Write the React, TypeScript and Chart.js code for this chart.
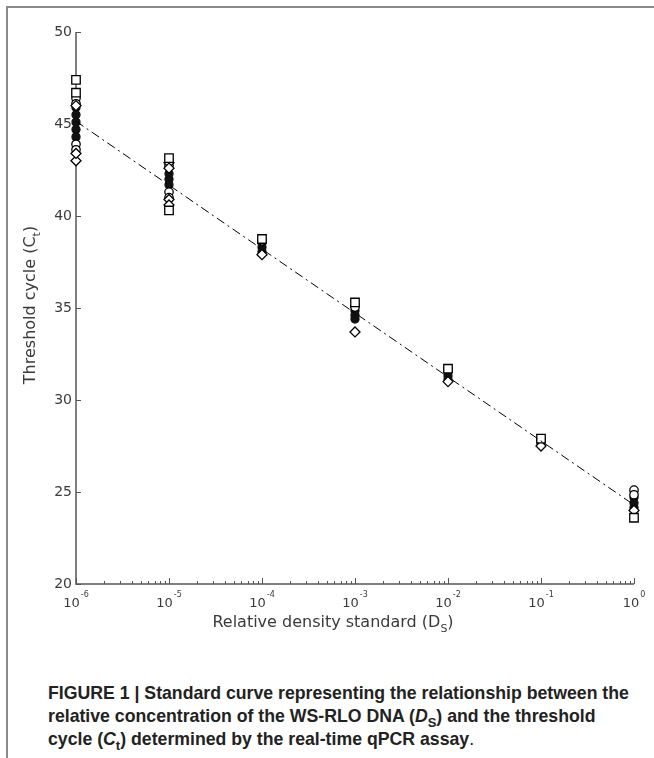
import React, { useEffect, useRef } from "react";
import { Chart, registerables } from "chart.js";

Chart.register(...registerables);

// Relative density standard (x positions of the dilution series)
const concentrations = [1e-6, 1e-5, 1e-4, 1e-3, 1e-2, 1e-1, 1];

// Threshold cycle replicates per concentration, one array per marker series
const squareCt = [[47.4, 46.7], [43.15, 40.3], [38.75], [35.3], [31.7], [27.9], [23.6]];
const diamondCt = [[43.0, 43.4, 46.0], [42.9, 42.6, 40.9, 40.6], [37.9], [33.7], [31.0], [27.5], [24.0]];
const circleCt = [[46.4, 46.1, 43.9, 43.6], [42.75, 41.3, 41.0], [38.65], [35.05], [31.65], [27.85], [25.1, 24.85]];
const filledCt = [[45.9, 45.5, 45.1, 44.7, 44.3], [42.3, 42.0, 41.7], [38.55, 38.3, 38.05], [35.1, 34.85, 34.6, 34.4], [31.55, 31.3, 31.1], [27.8, 27.6], [24.7, 24.4, 24.15]];
const starCt = [[45.6, 44.5], [42.15], [38.55, 38.1], [35.15], [31.45], [27.75], [24.6]];
const crossCt = [[45.2], [41.6], [38.3], [34.8], [31.25], [27.65], [24.3]];
const dotCt = [[45.4, 44.9], [41.9], [38.4], [34.6], [31.35], [27.6], [24.45]];

// Fitted standard curve (end points)
const fitX = [1e-6, 1];
const fitCt = [45.15, 24.3];

// Axis tick values
const yTicks = [20, 25, 30, 35, 40, 45, 50];
const decadeExponents = [-6, -5, -4, -3, -2, -1, 0];

function toPoints(series: number[][]) {
  const pts: { x: number; y: number }[] = [];
  series.forEach((vals, i) => vals.forEach((v) => pts.push({ x: concentrations[i], y: v })));
  return pts;
}

const AXIS_COLOR = "#555";
const TEXT_COLOR = "#3a3a3a";
const FONT = "'DejaVu Sans', sans-serif";

const axesPlugin = {
  id: "customAxes",
  beforeDatasetsDraw(chart: any) {
    const { ctx, chartArea, scales } = chart;
    const xs = scales.x;
    const ys = scales.y;
    ctx.save();
    ctx.strokeStyle = AXIS_COLOR;
    ctx.lineWidth = 1.5;
    ctx.beginPath();
    ctx.moveTo(chartArea.left, chartArea.top);
    ctx.lineTo(chartArea.left, chartArea.bottom);
    ctx.lineTo(chartArea.right, chartArea.bottom);
    ctx.stroke();
    ctx.lineWidth = 1;
    ctx.beginPath();
    yTicks.forEach((t) => {
      const py = Math.round(ys.getPixelForValue(t)) + 0.5;
      ctx.moveTo(chartArea.left, py);
      ctx.lineTo(chartArea.left + 5, py);
    });
    decadeExponents.forEach((e) => {
      for (let m = 1; m <= 9; m++) {
        if (e === 0 && m > 1) break;
        const v = m * Math.pow(10, e);
        const px = Math.round(xs.getPixelForValue(v)) + 0.5;
        const len = m === 1 ? 6 : 3;
        ctx.moveTo(px, chartArea.bottom);
        ctx.lineTo(px, chartArea.bottom - len);
      }
    });
    ctx.stroke();
    ctx.restore();
  },
  afterDraw(chart: any) {
    const { ctx, chartArea, scales } = chart;
    const xs = scales.x;
    ctx.save();
    ctx.fillStyle = TEXT_COLOR;
    decadeExponents.forEach((e) => {
      const px = xs.getPixelForValue(Math.pow(10, e));
      ctx.font = `13px ${FONT}`;
      const baseW = ctx.measureText("10").width;
      ctx.font = `8px ${FONT}`;
      const expW = ctx.measureText(String(e)).width;
      const total = baseW + 1 + expW;
      const x0 = px - total / 2;
      ctx.textBaseline = "alphabetic";
      ctx.textAlign = "left";
      ctx.font = `13px ${FONT}`;
      ctx.fillText("10", x0, chartArea.bottom + 23);
      ctx.font = `8px ${FONT}`;
      ctx.fillText(String(e), x0 + baseW + 1, chartArea.bottom + 13);
    });
    const drawSubTitle = (main: string, sub: string, cx: number, cy: number, rot: number) => {
      ctx.save();
      ctx.translate(cx, cy);
      ctx.rotate(rot);
      ctx.font = `16px ${FONT}`;
      const w1 = ctx.measureText(main).width;
      ctx.font = `11px ${FONT}`;
      const w2 = ctx.measureText(sub).width;
      ctx.font = `16px ${FONT}`;
      const w3 = ctx.measureText(")").width;
      const total = w1 + w2 + w3;
      let x = -total / 2;
      ctx.textBaseline = "middle";
      ctx.textAlign = "left";
      ctx.fillText(main, x, 0);
      x += w1;
      ctx.font = `11px ${FONT}`;
      ctx.fillText(sub, x, 6);
      x += w2;
      ctx.font = `16px ${FONT}`;
      ctx.fillText(")", x, 0);
      ctx.restore();
    };
    drawSubTitle("Relative density standard (D", "S", 333, chartArea.bottom + 39, 0);
    drawSubTitle("Threshold cycle (C", "t", 31, 305, -Math.PI / 2);
    ctx.restore();
  },
};

const markerBase = {
  type: "scatter" as const,
  showLine: false,
  borderColor: "#000",
  borderWidth: 1.3,
  backgroundColor: "#fff",
  pointRadius: 3.5,
  clip: false as const,
};

export default function App() {
  const canvasRef = useRef<HTMLCanvasElement | null>(null);

  useEffect(() => {
    document.body.style.margin = "0";
    const canvas = canvasRef.current;
    if (!canvas) return;
    const chart = new Chart(canvas, {
      type: "scatter",
      data: {
        datasets: [
          {
            type: "line",
            data: fitX.map((x, i) => ({ x, y: fitCt[i] })),
            borderColor: "#000",
            borderWidth: 1,
            borderDash: [9, 4, 2, 4],
            pointRadius: 0,
            fill: false,
            clip: false,
          } as any,
          { ...markerBase, data: toPoints(squareCt), pointStyle: "rect", pointRadius: 6 },
          { ...markerBase, data: toPoints(diamondCt), pointStyle: "rectRot", pointRadius: 5 },
          { ...markerBase, data: toPoints(circleCt), pointStyle: "circle", pointRadius: 4.2 },
          { ...markerBase, data: toPoints(filledCt), pointStyle: "circle", pointRadius: 4, backgroundColor: "#111", borderColor: "#111" },
          { ...markerBase, data: toPoints(starCt), pointStyle: "star", pointRadius: 2.6, borderColor: "#fff", borderWidth: 0.8 },
          { ...markerBase, data: toPoints(crossCt), pointStyle: "crossRot", pointRadius: 2.2, borderColor: "#ddd", borderWidth: 0.8 },
          { ...markerBase, data: toPoints(dotCt), pointStyle: "circle", pointRadius: 1, backgroundColor: "#fff", borderColor: "#fff", borderWidth: 0 },
        ],
      },
      options: {
        animation: false,
        responsive: false,
        maintainAspectRatio: false,
        layout: { padding: { top: 32, right: 20, left: 0, bottom: 0 } },
        plugins: { legend: { display: false }, tooltip: { enabled: false } },
        scales: {
          x: {
            type: "logarithmic",
            min: 1e-6,
            max: 1,
            grid: { display: false },
            border: { display: false },
            ticks: { display: false },
            afterFit: (s: any) => {
              s.height = 76;
            },
          },
          y: {
            type: "linear",
            min: 20,
            max: 50,
            grid: { display: false, drawTicks: false },
            border: { display: false },
            ticks: {
              stepSize: 5,
              padding: 4,
              color: TEXT_COLOR,
              font: { family: "DejaVu Sans", size: 14 },
            },
            afterFit: (s: any) => {
              s.width = 76;
            },
          },
        },
      },
      plugins: [axesPlugin],
    });
    return () => chart.destroy();
  }, []);

  return (
    <div style={{ position: "relative", width: 654, height: 758, background: "#fff", overflow: "hidden" }}>
      <div style={{ position: "absolute", left: 6, top: 6, right: 0, height: 2, background: "#8a8a8a" }} />
      <div style={{ position: "absolute", left: 6, top: 6, width: 2, bottom: 0, background: "#8a8a8a" }} />
      <canvas ref={canvasRef} width={654} height={660} style={{ position: "absolute", left: 0, top: 0 }} />
      <div
        style={{
          position: "absolute",
          left: 48,
          top: 682,
          width: 600,
          fontFamily: "'Liberation Sans Narrow', 'Liberation Sans', Arial, sans-serif",
          fontWeight: "bold",
          fontSize: 17.7,
          lineHeight: "23px",
          color: "#222",
          whiteSpace: "nowrap",
        }}
      >
        <div>FIGURE 1 | Standard curve representing the relationship between the</div>
        <div>
          relative concentration of the WS-RLO DNA (<i>D</i>
          <sub style={{ fontSize: 13, lineHeight: 0 }}>S</sub>) and the threshold
        </div>
        <div>
          cycle (<i>C</i>
          <sub style={{ fontSize: 13, lineHeight: 0 }}>t</sub>) determined by the real-time qPCR assay<span style={{ fontWeight: "normal" }}>.</span>
        </div>
      </div>
    </div>
  );
}
